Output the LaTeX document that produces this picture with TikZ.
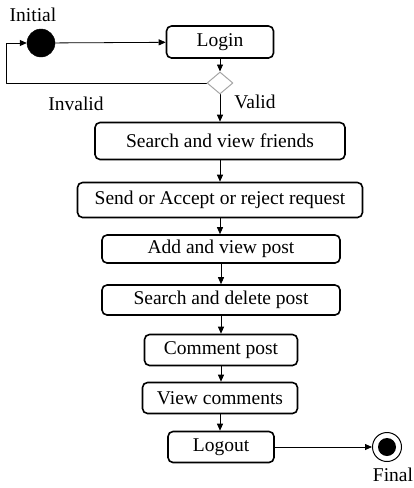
\documentclass[tikz,border=0pt]{standalone}
\usepackage{fontspec}
\setmainfont{Liberation Serif}
\usetikzlibrary{arrows.meta,positioning,shapes.geometric}
\tikzset{every picture/.style={line cap=round, line join=round}}
\tikzset{act/.style={draw, rectangle, rounded corners=5pt, inner sep=2pt,
  minimum height=31pt, align=center, line width=1.6pt}}
\tikzset{arrow/.style={-{Triangle[length=7pt,width=6pt]}, line width=0.8pt}}
\tikzset{line/.style={draw, line width=0.8pt}}
\tikzset{lbl/.style={inner sep=0pt}}

\begin{document}
\begin{tikzpicture}[x=1pt, y=-1pt, font=\fontsize{19.5}{22}\selectfont]
  \useasboundingbox (0,0) rectangle (414,488);

  % start / login
  \node[circle, fill=black, draw=black, minimum size=28pt, inner sep=0pt] (init) at (41,43) {};
  \node[lbl] (initlbl) at (33,15) {Initial};
  \node[act, minimum width=107pt, minimum height=32pt] (login) at (220,42) {Login};
  \node[diamond, draw=gray!70, line width=1pt, minimum width=26pt, minimum height=22pt,
        inner sep=0pt] (check) at (220,83) {};
  \coordinate (loop) at (6,43);

  % activities
  \node[act, minimum width=250pt, minimum height=37pt] (friends) at (220,141) {Search and view friends};
  \node[act, minimum width=285pt, minimum height=35pt] (request) at (220,200) {Send or Accept or reject request};
  \node[act, minimum width=238pt, minimum height=28pt] (addpost) at (221,249) {Add and view post};
  \node[act, minimum width=238pt, minimum height=30pt] (delpost) at (221,300) {Search and delete post};
  \node[act, minimum width=153pt] (comment) at (221,350) {Comment post};
  \node[act, minimum width=155pt] (viewcom) at (220,398) {View comments};
  \node[act, minimum width=106pt] (logout) at (221,447) {Logout};

  % end
  \node[circle, draw=black, line width=1pt, minimum size=29pt, inner sep=0pt] (final) at (387,447) {};
  \node[circle, fill=black, minimum size=18pt, inner sep=0pt] (finaldot) at (final.center) {};
  \node[lbl] (finallbl) at (393,475) {Final};

  % guards
  \node[lbl] (invalid) at (76,104) {Invalid};
  \node[lbl] (valid) at (255,102) {Valid};

  % flow
  \draw[arrow] (init) -- (login);
  \draw[arrow] (login) -- (check);
  \draw[arrow] (check.west) -| (loop) -- (init);
  \draw[arrow] (check) -- (friends);
  \draw[arrow] (friends) -- (request);
  \draw[arrow] (request) -- (request |- addpost.north);
  \draw[arrow] (addpost) -- (delpost);
  \draw[arrow] (delpost) -- (comment);
  \draw[arrow] (comment) -- (comment |- viewcom.north);
  \draw[arrow] (viewcom) -- (viewcom |- logout.north);
  \draw[arrow] (logout) -- (final);
\end{tikzpicture}
\end{document}
